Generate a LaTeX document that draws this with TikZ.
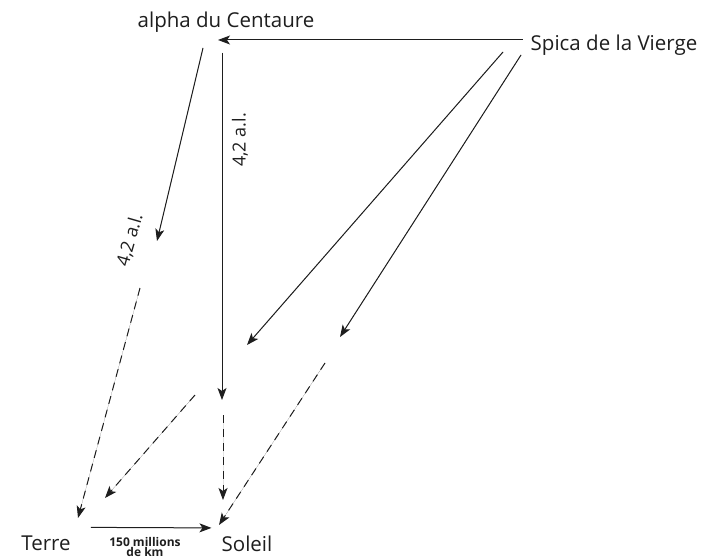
\documentclass[tikz,border=0pt]{standalone}
\usepackage{fontspec}
\setmainfont{Open Sans}
\usepackage{tikz}
\usetikzlibrary{arrows.meta}
\definecolor{ink}{RGB}{30, 30, 30}

\begin{document}
\begin{tikzpicture}[x=1pt, y=-1pt,
    star/.style={font=\fontsize{20.5}{23}\selectfont, text=ink, inner sep=0pt},
    dist/.style={font=\fontsize{18}{20}\selectfont, text=ink, inner sep=0pt},
    gap/.style={font=\fontsize{12}{10.5}\selectfont\bfseries, text=ink, align=center, inner sep=0pt},
    ray/.style={-{Stealth[length=12pt, width=9pt, inset=3pt]}, line width=1pt, draw=ink, fill=ink},
    seen/.style={ray, dash pattern=on 8pt off 6pt}
]
    \useasboundingbox (0,0) rectangle (715,559);

    % Stars
    \node[star] (centaure) at (226,22) {alpha du Centaure};
    \node[star] (spica) at (614,45) {Spica de la Vierge};
    \node[star] (terre) at (46,543) {Terre};
    \node[star] (soleil) at (247,544) {Soleil};

    % Ends of the rays
    \coordinate (top-tip) at (218,40);
    \coordinate (cen-a) at (203,48);   \coordinate (cen-a-tip) at (157,241);
    \coordinate (cen-a2) at (140,288); \coordinate (terre-tip) at (78,518);
    \coordinate (cen-b) at (222,53);   \coordinate (cen-b-tip) at (222,400);
    \coordinate (cen-b2) at (223,415); \coordinate (soleil-tip) at (223,500);
    \coordinate (spi-a) at (503,52);   \coordinate (spi-a-tip) at (247,345);
    \coordinate (spi-a2) at (195,395); \coordinate (spi-a2-tip) at (105,498);
    \coordinate (spi-b) at (521,55);   \coordinate (spi-b-tip) at (340,337);
    \coordinate (spi-b2) at (325,363); \coordinate (spi-b2-tip) at (219,525);

    % Rays
    \draw[ray] ([shift={(-8pt,5pt)}]spica.west) -- (top-tip);
    \draw[ray] (cen-a) -- (cen-a-tip);
    \draw[seen] (cen-a2) -- (terre-tip);
    \draw[ray] (cen-b) -- (cen-b-tip);
    \draw[seen] (cen-b2) -- (soleil-tip);
    \draw[ray] (spi-a) -- (spi-a-tip);
    \draw[seen] (spi-a2) -- (spi-a2-tip);
    \draw[ray] (spi-b) -- (spi-b-tip);
    \draw[seen] (spi-b2) -- (spi-b2-tip);
    \draw[ray] ([shift={(20pt,8pt)}]terre.north east) -- ([shift={(-10pt,8pt)}]soleil.north west);

    % Distances
    \node[dist, rotate=90] (al-b) at (240,140) {4,2 a.l.};
    \node[dist, rotate=74] (al-a) at (130,240) {4,2 a.l.};
    \node[gap] (km) at (145,547) {150 millions\\de km};
\end{tikzpicture}
\end{document}
